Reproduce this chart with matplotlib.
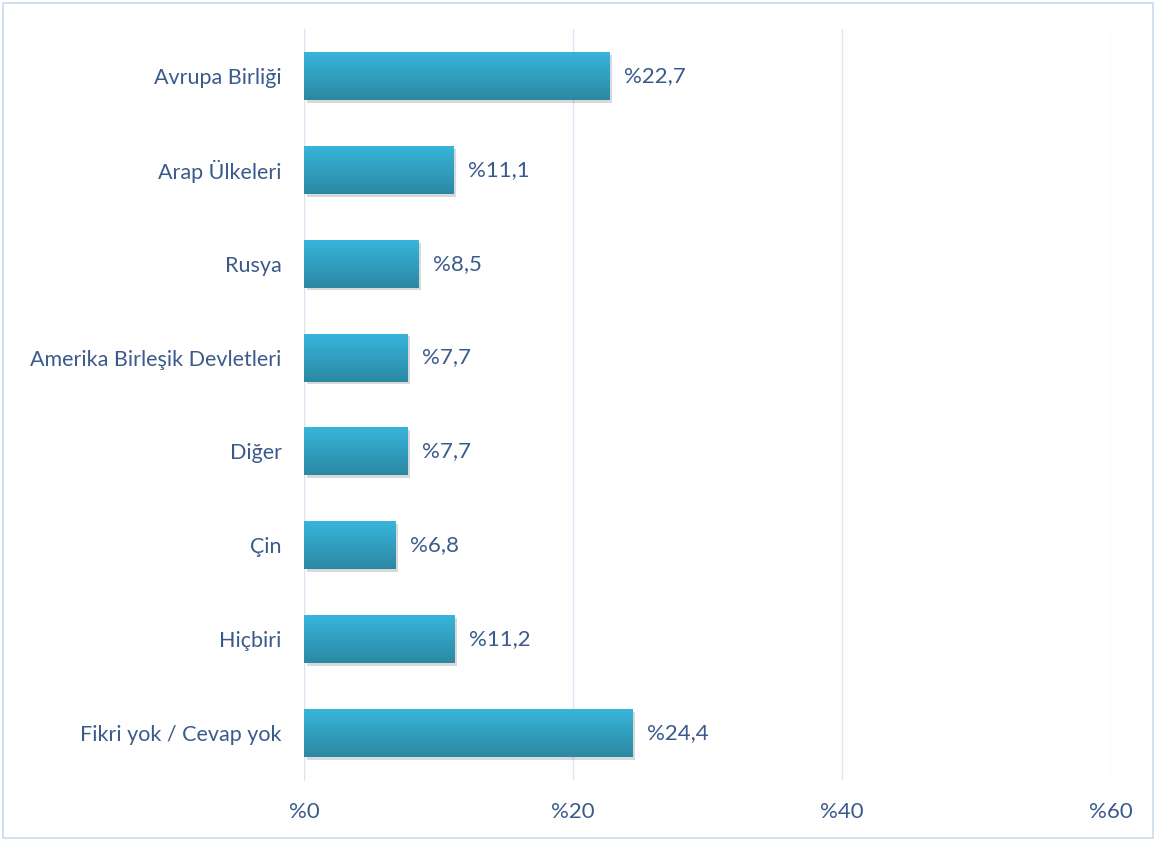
import matplotlib
matplotlib.use("Agg")
import matplotlib.pyplot as plt
import numpy as np
from matplotlib import patheffects as pe
from matplotlib.patches import Rectangle
from matplotlib.colors import LinearSegmentedColormap

categories = ["Avrupa Birliği", "Arap Ülkeleri", "Rusya", "Amerika Birleşik Devletleri",
              "Diğer", "Çin", "Hiçbiri", "Fikri yok / Cevap yok"]
values = [22.7, 11.1, 8.5, 7.7, 7.7, 6.8, 11.2, 24.4]
value_labels = ["%22,7", "%11,1", "%8,5", "%7,7", "%7,7", "%6,8", "%11,2", "%24,4"]
xticks = [0, 20, 40, 60]
xtick_labels = ["%0", "%20", "%40", "%60"]

plt.rcParams['font.family'] = ['Lato', 'DejaVu Sans']
text_color = "#3b5a8c"
grid_color = "#dbe5f1"

fig = plt.figure(figsize=(11.56, 8.41), dpi=100)
ax = fig.add_axes([304/1156, 1-780/841, (1111-304)/1156, (780-29)/841])

y = np.arange(len(categories))
bars = ax.barh(y, values, height=0.51, color="#34a9cc", zorder=3,
               path_effects=[pe.SimplePatchShadow(offset=(2, -2), shadow_rgbFace="#000000", alpha=0.15), pe.Normal()])

# gradient fill
grad = np.linspace(0, 1, 256).reshape(-1, 1)
cmap = LinearSegmentedColormap.from_list("g", ["#38b5db", "#2b88a3"])
for b in bars:
    x0, y0 = b.get_x(), b.get_y()
    w, h = b.get_width(), b.get_height()
    im = ax.imshow(grad, extent=[x0, x0 + w, y0 + h, y0], aspect='auto', cmap=cmap,
                   zorder=4, origin='upper')
    im.set_clip_path(b)

for yi, v, lab in zip(y, values, value_labels):
    ax.text(v + 1.1, yi, lab, va='center', ha='left', fontsize=16, color=text_color, zorder=5)

ax.set_xlim(0, 60)
ax.set_ylim(len(categories) - 0.5, -0.5)
ax.set_yticks(y)
ax.set_yticklabels(categories, fontsize=15.5, color=text_color)
ax.set_xticks(xticks)
ax.set_xticklabels(xtick_labels, fontsize=16, color=text_color)
ax.tick_params(axis='both', length=0)
ax.tick_params(axis='x', pad=16)
ax.tick_params(axis='y', pad=16)
ax.grid(axis='x', color=grid_color, linewidth=1, zorder=0)
for s in ['top', 'right', 'bottom']:
    ax.spines[s].set_visible(False)
ax.spines['left'].set_color(grid_color)
ax.set_axisbelow(True)

fig.patches.append(Rectangle((0.003, 0.003), 0.994, 0.994, transform=fig.transFigure,
                             fill=False, edgecolor="#c9daee", linewidth=1.2))

fig.savefig("out.png", dpi=100)
